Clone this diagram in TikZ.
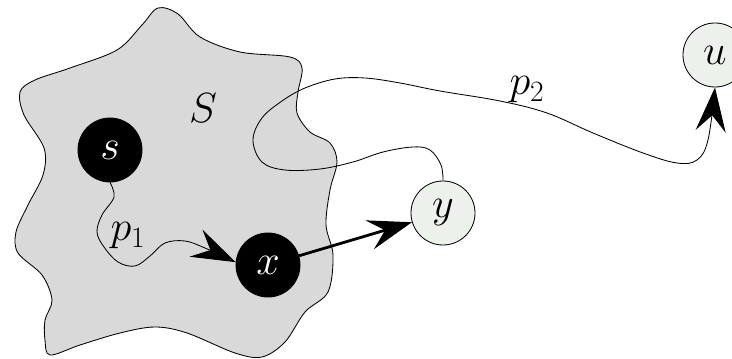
\RequirePackage{fix-cm}
\documentclass[tikz,border=0pt]{standalone}
\usepackage{tikz}
\usetikzlibrary{arrows.meta}
\definecolor{figgray}{HTML}{D9D9D9}
\definecolor{figpale}{HTML}{EDF1EC}
\tikzset{
  fignode/.style={circle, draw=black, line width=0.6pt, minimum size=1.6cm,
    inner sep=0pt, font=\fontsize{30}{34}\selectfont},
  sdark/.style={fill=black, text=white},
  slight/.style={fill=figpale},
  figregion/.style={draw=black, line width=0.6pt, fill=figgray},
  figpath/.style={draw=black, line width=0.6pt},
  figarrow/.style={-{Stealth[length=11mm, width=7.5mm, inset=4mm]}},
  figlabel/.style={font=\fontsize{30}{34}\selectfont, inner sep=0pt},
}

\begin{document}
\begin{tikzpicture}[x=0.025cm, y=-0.025cm]
  \useasboundingbox (0,0) rectangle (732,359);
  % the set S
  \draw[figregion] plot[smooth cycle, tension=0.55] coordinates {
    (158,8) (178,14) (200,37) (240,52) (290,57) (302,68) (298,92) (297,113)
    (310,132) (330,143) (337,162) (330,190) (326,225) (333,255) (328,292)
    (305,312) (285,342) (262,357) (235,353) (187,333) (155,327) (120,333)
    (80,345) (50,355) (45,340) (45,320) (52,300) (42,275) (18,253) (16,232)
    (28,205) (43,175) (44,148) (24,115) (20,92) (35,80) (70,68) (117,50)
    (142,25)};
  \node[figlabel] (setS) at (203,108) {$S$};

  \node[fignode, sdark] (s) at (110,150) {$s$};
  \node[fignode, sdark] (x) at (268,265) {$x$};
  \node[fignode, slight] (y) at (443,213) {$y$};
  \node[fignode, slight] (u) at (715,55) {$u$};

  % p1 from s to x
  \draw[figpath, figarrow] plot[smooth, tension=0.6] coordinates {
    (s.south) (114,197) (102,215) (97,232) (104,247) (118,262) (135,266)
    (150,256) (165,243) (185,241) (205,248) (x.175)};
  \node[figlabel] (p1) at (128,236) {$p_1$};

  % edge x -> y
  \draw[figarrow, line width=2pt] (x) -- (y);

  % p2 from y to u
  \draw[figpath, figarrow] plot[smooth, tension=0.6] coordinates {
    (y.north) (441,165) (430,150) (413,147) (383,152) (353,162) (320,169)
    (285,170) (262,162) (253,140) (262,118) (282,101) (305,88) (335,79)
    (365,78) (400,83) (440,91) (500,101) (547,113) (593,133) (643,153)
    (677,163) (697,160) (708,140) (u.south)};
  \node[figlabel] (p2) at (527,90) {$p_2$};
\end{tikzpicture}
\end{document}
